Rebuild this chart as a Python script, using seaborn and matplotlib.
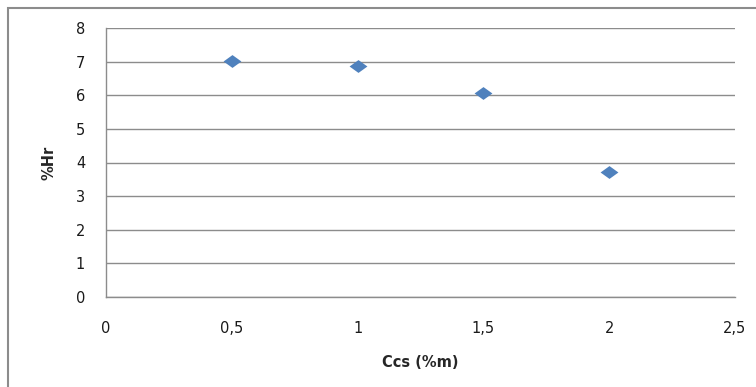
import matplotlib
matplotlib.use("Agg")
import matplotlib.pyplot as plt
from matplotlib.path import Path
from matplotlib.patches import Rectangle
from matplotlib.ticker import FuncFormatter
import pandas as pd
import seaborn as sns

# Measured data: coagulant concentration vs. moisture content
ccs = [0.5, 1.0, 1.5, 2.0]
hr = [7.03, 6.87, 6.07, 3.72]
x_ticks = [0, 0.5, 1, 1.5, 2, 2.5]
y_ticks = [0, 1, 2, 3, 4, 5, 6, 7, 8]

df = pd.DataFrame({"Ccs (%m)": ccs, "%Hr": hr})

sns.set_style("white")
plt.rcParams["font.family"] = ["DejaVu Sans"]

fig = plt.figure(figsize=(7.56, 3.87), dpi=100)
ax = fig.add_axes([106 / 756, 1 - 297 / 387, (735 - 106) / 756, (297 - 28) / 387])

# Wide, flat diamond marker
diamond = Path([(-1, 0), (0, 0.72), (1, 0), (0, -0.72), (-1, 0)],
               [Path.MOVETO, Path.LINETO, Path.LINETO, Path.LINETO, Path.CLOSEPOLY])

sns.scatterplot(data=df, x="Ccs (%m)", y="%Hr", ax=ax, marker=diamond,
                s=165, color="#4F81BD", edgecolor="#4F81BD", linewidth=0,
                zorder=3)

ax.set_xlim(0, 2.5)
ax.set_ylim(0, 8)
ax.set_xticks(x_ticks)
ax.set_yticks(y_ticks)
comma = FuncFormatter(lambda v, _: (f"{v:g}").replace(".", ","))
ax.xaxis.set_major_formatter(comma)
ax.yaxis.set_major_formatter(comma)

ax.grid(axis="y", color="#8C8C8C", linewidth=1)
ax.grid(axis="x", visible=False)
ax.set_axisbelow(True)

for side in ("top", "right"):
    ax.spines[side].set_visible(False)
for side in ("left", "bottom"):
    ax.spines[side].set_visible(True)
    ax.spines[side].set_color("#8C8C8C")
    ax.spines[side].set_linewidth(1)

ax.tick_params(axis="both", length=0, labelsize=10.5, colors="#1a1a1a")
ax.tick_params(axis="x", pad=17)
ax.tick_params(axis="y", pad=15)

ax.set_xlabel("Ccs (%m)", fontsize=10.5, fontweight="bold", labelpad=14)
ax.set_ylabel("%Hr", fontsize=10.5, fontweight="bold", labelpad=14)

# Outer chart frame
fig.patches.append(Rectangle((8 / 756, -0.05), 1.1, 1 - 8 / 387 + 0.05,
                             transform=fig.transFigure, fill=False,
                             edgecolor="#8C8C8C", linewidth=1.5))

fig.savefig("out.png", dpi=100)
